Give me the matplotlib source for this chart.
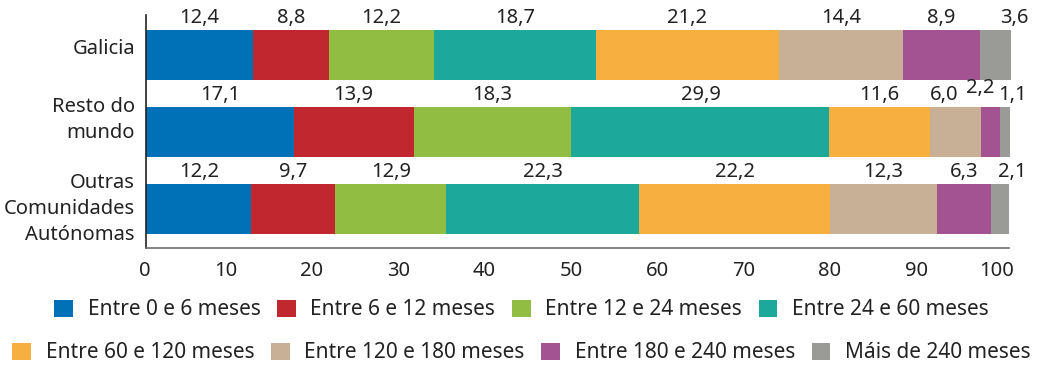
import numpy as np
import matplotlib
matplotlib.use('Agg')
import matplotlib.pyplot as plt
from matplotlib.patches import Patch
from matplotlib.transforms import offset_copy, ScaledTranslation

plt.rcParams['font.family'] = ['Noto Sans', 'DejaVu Sans']

categorias = ['Galicia', 'Resto do\nmundo', 'Outras\nComunidades\nAutónomas']
tramos = ['Entre 0 e 6 meses', 'Entre 6 e 12 meses', 'Entre 12 e 24 meses',
          'Entre 24 e 60 meses', 'Entre 60 e 120 meses', 'Entre 120 e 180 meses',
          'Entre 180 e 240 meses', 'Máis de 240 meses']
galicia = [12.4, 8.8, 12.2, 18.7, 21.2, 14.4, 8.9, 3.6]
resto_mundo = [17.1, 13.9, 18.3, 29.9, 11.6, 6.0, 2.2, 1.1]
outras_cc_aa = [12.2, 9.7, 12.9, 22.3, 22.2, 12.3, 6.3, 2.1]
cores = ['#0071b6', '#c1272f', '#91bd43', '#1ca99b', '#f7b03f',
         '#c8b097', '#a35292', '#9a9a96']

valores = np.array([galicia, resto_mundo, outras_cc_aa])
fs = 14.5

fig = plt.figure(figsize=(10.43, 3.68), dpi=100)
ax = fig.add_axes([0.140, 0.326, 0.8274, 0.6332])

# desprazamentos manuais das etiquetas que se solapan (px)
axustes = {(1, 5): (-11, 0), (1, 6): (-11, 7)}

for i in range(len(categorias)):
    esq = 0
    for j in range(len(tramos)):
        v = valores[i, j]
        ax.barh(i, v, left=esq, height=0.65, color=cores[j], clip_on=False)
        txt = f'{v:.1f}'.replace('.', ',')
        if j == len(tramos) - 1:
            tr = offset_copy(ax.transData, fig=fig, x=12.5, y=1.5, units='points')
            ax.text(esq + v, i - 0.325, txt, ha='right', va='bottom',
                    fontsize=fs, color='#222222', transform=tr)
        else:
            dx, dy = axustes.get((i, j), (0, 0))
            tr = offset_copy(ax.transData, fig=fig, x=dx * 0.72, y=1.5 + dy * 0.72,
                             units='points')
            ax.text(esq + v / 2, i - 0.325, txt, ha='center', va='bottom',
                    fontsize=fs, color='#222222', transform=tr)
        esq += v

ax.set_xlim(0, 99.7)
ax.set_ylim(2.506, -0.52)
ax.set_yticks(range(len(categorias)))
ax.set_yticklabels(categorias, fontsize=fs, color='#222222', linespacing=1.4)
ax.set_xticks(range(0, 101, 10))
ax.set_xticklabels([str(t) for t in range(0, 101, 10)], fontsize=fs, color='#222222')
ax.tick_params(axis='both', length=0)
ax.tick_params(axis='y', pad=8)
ax.tick_params(axis='x', pad=9)

# etiquetas do eixo x un pouco desprazadas, como no orixinal
for lab in ax.get_xticklabels():
    lab.set_horizontalalignment('right')
    lab.set_transform(lab.get_transform() + ScaledTranslation(
        5 / 100, 0, fig.dpi_scale_trans))
# as categorias non están centradas na barra
for lab, dy in zip(ax.get_yticklabels(), [9, 18, 6]):
    lab.set_transform(lab.get_transform() + ScaledTranslation(
        0, dy / 100, fig.dpi_scale_trans))

for s in ['top', 'right']:
    ax.spines[s].set_visible(False)
ax.spines['left'].set_color('#222222')
ax.spines['left'].set_linewidth(1.2)
ax.spines['bottom'].set_color('#707070')
ax.spines['bottom'].set_linewidth(1.2)

handles = [Patch(facecolor=c, edgecolor='none') for c in cores]
for k, yy in [(0, 0.158), (1, 0.041)]:
    fig.legend(handles[4 * k:4 * k + 4], tramos[4 * k:4 * k + 4], loc='center',
               bbox_to_anchor=(0.5, yy), ncol=4, frameon=False, fontsize=15,
               handlelength=0.9, handleheight=0.9, handletextpad=0.7,
               columnspacing=0.8, borderpad=0, labelcolor='#222222')

fig.savefig('out.png', dpi=100)
